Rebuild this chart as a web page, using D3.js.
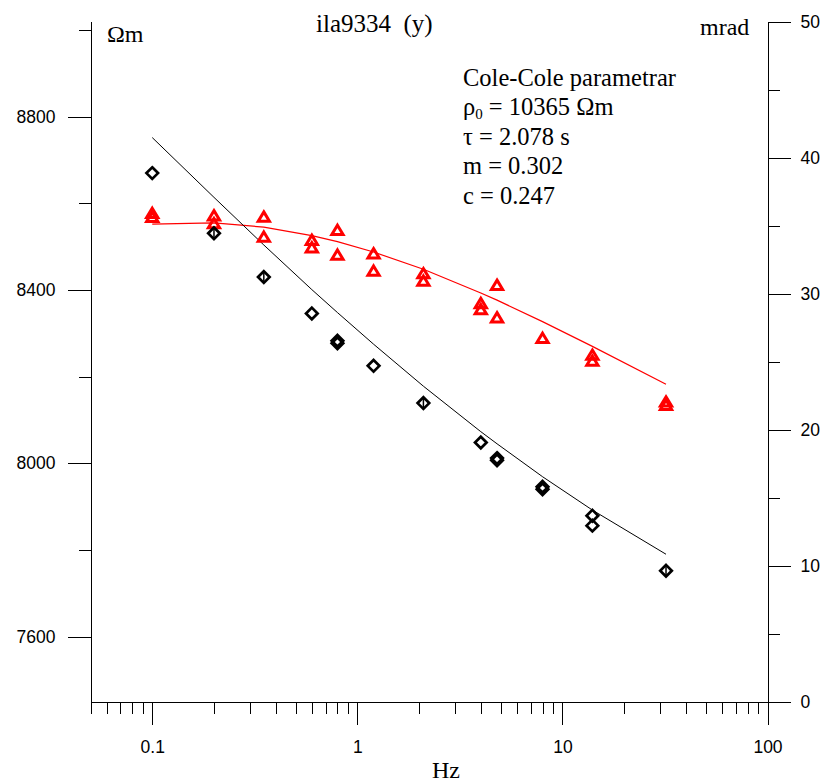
<!DOCTYPE html>
<html>
<head>
<meta charset="utf-8">
<style>
html, body {
  margin: 0px;
  padding: 0px;
  background: #fff;
}
svg text.serif {
  font-family: "Liberation Serif", "Times New Roman", serif;
  white-space: pre;
}
.axis text {
  font-family: "Liberation Sans", Arial, sans-serif;
  font-size: 17.5px;
  fill: #000;
}
.axis path, .axis line {
  stroke: #000;
  shape-rendering: crispEdges;
}
</style>
</head>
<body>
<div id="chart"></div>
<script src="https://cdn.jsdelivr.net/npm/d3@7"></script>
<script>
  // frequencies of the fitted Cole-Cole curve
  var fitFreq  = [0.1, 0.2, 0.35, 0.6, 0.8, 1.2, 2.1, 4, 4.8, 8, 14, 32];
  var fitRho   = [8752, 8614, 8504, 8401, 8348, 8275, 8178, 8073, 8045, 7969, 7892, 7790];
  var fitPhase = [35.10, 35.19, 34.88, 34.26, 33.81, 33.05, 31.78, 30.04, 29.51, 27.93, 26.11, 23.33];

  // measured apparent resistivity (Ωm)
  var rhoFreq = [0.1, 0.2, 0.35, 0.6, 0.8, 0.8, 1.2, 2.1, 4, 4.8, 4.8, 8, 8, 14, 14, 32];
  var rhoVal  = [8670, 8531, 8430, 8346, 8283, 8277, 8225, 8139, 8048, 8012, 8007, 7946, 7940, 7879, 7856, 7752];
  var rhoErr  = [0, 14, 14, 0, 0, 0, 0, 12, 0, 0, 0, 0, 0, 0, 0, 14];

  // measured phase (mrad)
  var phaseFreq = [0.1, 0.1, 0.2, 0.2, 0.35, 0.35, 0.6, 0.6, 0.8, 0.8, 1.2, 1.2,
                   2.1, 2.1, 4, 4, 4.8, 4.8, 8, 14, 14, 32, 32];
  var phaseVal  = [35.92, 35.63, 35.74, 35.16, 35.65, 34.17, 33.94, 33.39, 34.67, 32.85, 32.95, 31.67,
                   31.48, 30.94, 29.29, 28.84, 30.63, 28.24, 26.73, 25.49, 25.05, 22.05, 21.81];

  var xMajor = [0.1, 1, 10, 100];
  var xMinor = [0.05, 0.06, 0.07, 0.08, 0.09,
                0.2, 0.3, 0.4, 0.5, 0.6, 0.7, 0.8, 0.9,
                2, 3, 4, 5, 6, 7, 8, 9,
                20, 30, 40, 50, 60, 70, 80, 90];
  var rhoMajor = [7600, 8000, 8400, 8800];
  var rhoMinor = [7800, 8200, 8600, 9000];
  var phMajor = [0, 10, 20, 30, 40, 50];
  var phMinor = [5, 15, 25, 35, 45];

  var W = 827, H = 782;
  // plot frame (named so as not to clash with window.top)
  var pL = 90.5, pR = 767.5, pT = 21.5, pB = 701.5;

  var svg = d3.select("#chart").append("svg")
    .attr("width", W)
    .attr("height", H);

  svg.append("rect").attr("width", W).attr("height", H).attr("fill", "#fff");

  var x = d3.scaleLog().domain([0.05, 100]).range([pL, pR]);
  var yRho = d3.scaleLinear().domain([7450, 9020]).range([pB, pT]);
  var yPh = d3.scaleLinear().domain([0, 50]).range([pB, pT]);

  // x axis: minor ticks, then labelled decades
  svg.append("g").attr("class", "axis")
    .attr("transform", "translate(0," + pB + ")")
    .call(d3.axisBottom(x).tickValues(xMinor).tickSize(12).tickSizeOuter(0).tickFormat(""));
  svg.append("g").attr("class", "axis")
    .attr("transform", "translate(0," + pB + ")")
    .call(d3.axisBottom(x).tickValues(xMajor).tickSize(23).tickSizeOuter(0).tickPadding(16)
      .tickFormat(d3.format("~g")));

  // left axis (Ωm)
  svg.append("g").attr("class", "axis")
    .attr("transform", "translate(" + pL + ",0)")
    .call(d3.axisLeft(yRho).tickValues(rhoMinor).tickSize(11.5).tickSizeOuter(0).tickFormat(""));
  svg.append("g").attr("class", "axis")
    .attr("transform", "translate(" + pL + ",0)")
    .call(d3.axisLeft(yRho).tickValues(rhoMajor).tickSize(23).tickSizeOuter(0).tickPadding(12)
      .tickFormat(d3.format("d")));

  // right axis (mrad)
  svg.append("g").attr("class", "axis")
    .attr("transform", "translate(" + pR + ",0)")
    .call(d3.axisRight(yPh).tickValues(phMinor).tickSize(12).tickSizeOuter(0).tickFormat(""));
  svg.append("g").attr("class", "axis")
    .attr("transform", "translate(" + pR + ",0)")
    .call(d3.axisRight(yPh).tickValues(phMajor).tickSize(23).tickSizeOuter(0).tickPadding(10)
      .tickFormat(d3.format("d")));

  // fitted curves
  var rhoLine = d3.line()
    .x(function (d, i) { return x(fitFreq[i]); })
    .y(function (d) { return yRho(d); });
  var phLine = d3.line()
    .x(function (d, i) { return x(fitFreq[i]); })
    .y(function (d) { return yPh(d); });

  svg.append("path").datum(fitPhase)
    .attr("d", phLine)
    .attr("fill", "none").attr("stroke", "#ff0000").attr("stroke-width", 1.2);
  svg.append("path").datum(fitRho)
    .attr("d", rhoLine)
    .attr("fill", "none").attr("stroke", "#000").attr("stroke-width", 1);

  // markers
  var triangle = {
    draw: function (ctx) {
      ctx.moveTo(0, -4.8);
      ctx.lineTo(5.6, 4.5);
      ctx.lineTo(-5.6, 4.5);
      ctx.closePath();
    }
  };
  var diamond = {
    draw: function (ctx) {
      ctx.moveTo(0, -5.8);
      ctx.lineTo(5.8, 0);
      ctx.lineTo(0, 5.8);
      ctx.lineTo(-5.8, 0);
      ctx.closePath();
    }
  };

  svg.append("g").selectAll("path")
    .data(phaseVal)
    .enter().append("path")
    .attr("transform", function (d, i) { return "translate(" + x(phaseFreq[i]) + "," + yPh(d) + ")"; })
    .attr("d", d3.symbol().type(triangle))
    .attr("fill", "none").attr("stroke", "#ff0000").attr("stroke-width", 3);

  var rhoG = svg.append("g");
  rhoG.selectAll("path")
    .data(rhoVal)
    .enter().append("path")
    .attr("transform", function (d, i) { return "translate(" + x(rhoFreq[i]) + "," + yRho(d) + ")"; })
    .attr("d", d3.symbol().type(diamond))
    .attr("fill", "none").attr("stroke", "#000").attr("stroke-width", 2.7);
  // error bars, where large enough to show
  var errIdx = d3.range(rhoVal.length).filter(function (i) { return rhoErr[i] > 0; });
  rhoG.selectAll("line")
    .data(errIdx)
    .enter().append("line")
    .attr("x1", function (i) { return x(rhoFreq[i]); })
    .attr("x2", function (i) { return x(rhoFreq[i]); })
    .attr("y1", function (i) { return yRho(rhoVal[i] - rhoErr[i]); })
    .attr("y2", function (i) { return yRho(rhoVal[i] + rhoErr[i]); })
    .attr("stroke", "#000").attr("stroke-width", 1.5);

  // texts
  svg.append("text").attr("class", "serif")
    .attr("x", 316).attr("y", 31.5).attr("font-size", 25)
    .text("ila9334  (y)");
  svg.append("text").attr("class", "serif")
    .attr("x", 107).attr("y", 41.5).attr("font-size", 24)
    .text("Ωm");
  svg.append("text").attr("class", "serif")
    .attr("x", 700).attr("y", 35).attr("font-size", 24)
    .text("mrad");
  svg.append("text").attr("class", "serif")
    .attr("x", 432).attr("y", 778).attr("font-size", 24)
    .text("Hz");

  var info = svg.append("g").attr("font-size", 24.5);
  var lx = 463, ly = 85.5, gap = 29.6;
  info.append("text").attr("class", "serif").attr("x", lx).attr("y", ly).text("Cole-Cole parametrar");
  var rhoTxt = info.append("text").attr("class", "serif").attr("x", lx).attr("y", ly + gap);
  rhoTxt.append("tspan").text("ρ");
  rhoTxt.append("tspan").attr("font-size", 15).attr("dy", 4).text("0");
  rhoTxt.append("tspan").attr("dy", -4).text(" = 10365 Ωm");
  info.append("text").attr("class", "serif").attr("x", lx).attr("y", ly + gap * 2).text("τ = 2.078 s");
  info.append("text").attr("class", "serif").attr("x", lx).attr("y", ly + gap * 3).text("m = 0.302");
  info.append("text").attr("class", "serif").attr("x", lx).attr("y", ly + gap * 4).text("c = 0.247");
</script>
</body>
</html>
